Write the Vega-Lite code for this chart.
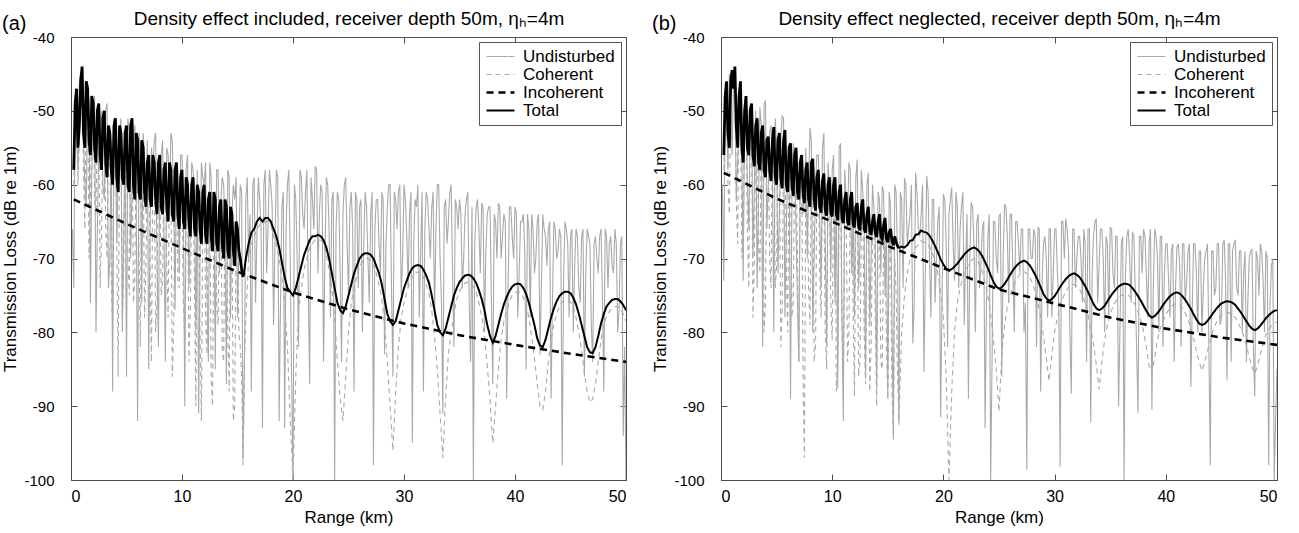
{
  "$schema": "https://vega.github.io/schema/vega-lite/v6.json",
  "padding": {"left": 1, "top": 9, "right": 20, "bottom": 3},
  "config": {
    "font": "Liberation Sans",
    "view": {"stroke": "#4d4d4d", "strokeWidth": 1},
    "axis": {"grid": false, "domain": false, "tickColor": "#4d4d4d", "tickSize": -6, "labelFontSize": 15, "titleFontSize": 17, "titleFontWeight": "normal", "labelColor": "#000", "titleColor": "#000", "labelFont": "Liberation Sans", "titleFont": "Liberation Sans"},
    "legend": {"orient": "top-right", "offset": 5, "padding": 6, "strokeColor": "#555", "fillColor": "#ffffff", "labelFontSize": 17, "labelFont": "Liberation Sans", "labelColor": "#000", "symbolType": "M-1,0H3", "symbolSize": 196, "labelOffset": 21, "rowPadding": 0, "title": null},
    "title": {"fontWeight": "normal", "fontSize": 20, "font": "Liberation Sans", "color": "#000"}
  },
  "datasets": {
    "a": [
      {"x":0.25,"t":-58,"c":-60,"u":-74,"i":-62},
      {"x":0.5,"t":-47,"c":-47.5,"u":-52},
      {"x":0.75,"t":-52,"c":-54,"u":-46},
      {"x":1,"t":-44,"c":-44.5,"u":-48},
      {"x":1.25,"t":-55,"c":-66,"u":-60},
      {"x":1.5,"t":-47,"c":-47.5,"u":-47},
      {"x":1.75,"t":-56,"c":-62,"u":-76},
      {"x":2,"t":-49,"c":-49.5,"u":-50},
      {"x":2.25,"t":-57,"c":-64,"u":-80},
      {"x":2.5,"t":-49,"c":-49.5,"u":-55},
      {"x":2.75,"t":-58,"c":-67,"u":-50},
      {"x":3,"t":-50,"c":-50.5,"u":-62},
      {"x":3.25,"t":-59,"c":-70,"u":-49},
      {"x":3.5,"t":-53,"c":-53.5,"u":-70},
      {"x":3.75,"t":-60,"c":-80,"u":-88},
      {"x":4,"t":-51,"c":-51.5,"u":-52},
      {"x":4.25,"t":-61,"c":-86,"u":-58},
      {"x":4.5,"t":-53,"c":-53.5,"u":-51},
      {"x":4.75,"t":-60,"c":-72,"u":-66},
      {"x":5,"t":-52,"c":-52.5,"u":-86,"i":-65.3},
      {"x":5.25,"t":-61,"c":-75,"u":-53},
      {"x":5.5,"t":-51,"c":-51.5,"u":-60},
      {"x":5.75,"t":-62,"c":-73,"u":-52},
      {"x":6,"t":-54,"c":-54.5,"u":-92},
      {"x":6.25,"t":-62,"c":-82,"u":-56},
      {"x":6.5,"t":-55,"c":-55.5,"u":-53},
      {"x":6.75,"t":-63,"c":-71,"u":-64},
      {"x":7,"t":-56,"c":-56.5,"u":-85},
      {"x":7.25,"t":-63,"c":-84,"u":-55},
      {"x":7.5,"t":-57,"c":-57.5,"u":-54},
      {"x":7.75,"t":-64,"c":-76,"u":-70},
      {"x":8,"t":-56,"c":-56.5,"u":-58},
      {"x":8.25,"t":-64,"c":-73,"u":-54},
      {"x":8.5,"t":-57,"c":-57.5,"u":-84},
      {"x":8.75,"t":-65,"c":-78,"u":-56},
      {"x":9,"t":-58,"c":-58.5,"u":-53},
      {"x":9.25,"t":-65,"c":-80,"u":-62},
      {"x":9.5,"t":-57,"c":-57.5,"u":-57},
      {"x":9.75,"t":-66,"c":-74,"u":-72},
      {"x":10,"t":-58,"c":-58.5,"u":-56,"i":-68.6},
      {"x":10.25,"t":-66,"c":-81,"u":-90},
      {"x":10.5,"t":-60,"c":-60.5,"u":-56},
      {"x":10.75,"t":-67,"c":-77,"u":-66},
      {"x":11,"t":-59,"c":-59.5,"u":-58},
      {"x":11.25,"t":-67,"c":-90,"u":-80},
      {"x":11.5,"t":-61,"c":-61.5,"u":-91},
      {"x":11.75,"t":-68,"c":-92,"u":-57},
      {"x":12,"t":-60,"c":-60.5,"u":-60},
      {"x":12.25,"t":-68,"c":-83,"u":-75},
      {"x":12.5,"t":-61,"c":-61.5,"u":-57},
      {"x":12.75,"t":-69,"c":-90,"u":-66},
      {"x":13,"t":-62,"c":-62.5,"u":-85},
      {"x":13.25,"t":-69,"c":-79,"u":-58},
      {"x":13.5,"t":-62,"c":-62.5,"u":-62},
      {"x":13.75,"t":-70,"c":-84,"u":-60},
      {"x":14,"t":-63,"c":-63.5,"u":-87},
      {"x":14.25,"t":-70,"c":-88,"u":-59},
      {"x":14.5,"t":-64,"c":-64.5,"u":-64},
      {"x":14.75,"t":-71,"c":-90,"u":-62},
      {"x":15,"t":-66,"c":-67,"u":-78,"i":-71.8},
      {"x":15.25,"t":-70,"c":-82,"u":-60},
      {"x":15.5,"t":-72.5,"c":-98,"u":-97},
      {"x":15.75,"t":-70,"c":-78,"u":-62},
      {"x":16,"t":-68,"c":-70,"u":-70},
      {"x":16.25,"t":-66.5,"c":-68,"u":-88},
      {"x":16.5,"t":-66,"c":-67,"u":-59},
      {"x":16.75,"t":-65,"c":-66,"u":-67},
      {"x":17,"t":-64.5,"c":-65.5,"u":-62},
      {"x":17.25,"t":-65,"c":-65.5,"u":-93},
      {"x":17.5,"t":-64.5,"c":-65,"u":-58},
      {"x":17.75,"t":-64.5,"c":-65,"u":-66},
      {"x":18,"t":-65,"c":-65.5,"u":-60},
      {"x":18.25,"t":-66,"c":-67,"u":-79},
      {"x":18.5,"t":-67,"c":-68,"u":-58},
      {"x":18.75,"t":-68.5,"c":-70,"u":-92},
      {"x":19,"t":-70.5,"c":-72.5,"u":-63},
      {"x":19.25,"t":-72.5,"c":-76,"u":-93},
      {"x":19.5,"t":-74,"c":-82,"u":-60},
      {"x":19.75,"t":-74.5,"c":-92,"u":-70},
      {"x":20,"t":-75,"c":-100,"u":-100,"i":-74.6},
      {"x":20.25,"t":-74,"c":-86,"u":-62},
      {"x":20.5,"t":-72.5,"c":-77,"u":-82},
      {"x":20.75,"t":-71,"c":-74,"u":-59},
      {"x":21,"t":-69.5,"c":-71.5,"u":-66},
      {"x":21.25,"t":-68.5,"c":-70,"u":-58},
      {"x":21.5,"t":-67.5,"c":-68.5,"u":-87},
      {"x":21.75,"t":-67,"c":-68,"u":-62},
      {"x":22,"t":-67,"c":-67.5,"u":-57.5},
      {"x":22.25,"t":-66.8,"c":-67.5,"u":-72},
      {"x":22.5,"t":-67,"c":-67.5,"u":-60},
      {"x":22.75,"t":-67.5,"c":-68,"u":-84},
      {"x":23,"t":-68.5,"c":-69.5,"u":-59},
      {"x":23.25,"t":-70,"c":-71.5,"u":-66},
      {"x":23.5,"t":-72,"c":-74,"u":-62},
      {"x":23.75,"t":-74,"c":-78,"u":-100},
      {"x":24,"t":-76,"c":-84,"u":-61},
      {"x":24.25,"t":-77,"c":-89,"u":-72},
      {"x":24.5,"t":-77.4,"c":-92,"u":-64},
      {"x":24.75,"t":-76.5,"c":-86,"u":-59},
      {"x":25,"t":-75,"c":-80,"u":-75,"i":-76.9},
      {"x":25.25,"t":-73.5,"c":-76,"u":-61},
      {"x":25.5,"t":-72,"c":-74,"u":-88},
      {"x":25.75,"t":-71,"c":-72.5,"u":-62},
      {"x":26,"t":-70,"c":-71,"u":-63},
      {"x":26.25,"t":-69.5,"c":-70.5,"u":-80},
      {"x":26.5,"t":-69.3,"c":-70,"u":-61},
      {"x":26.75,"t":-69.3,"c":-70,"u":-70},
      {"x":27,"t":-69.5,"c":-70.3,"u":-64},
      {"x":27.25,"t":-70,"c":-71,"u":-98},
      {"x":27.5,"t":-71,"c":-72,"u":-62},
      {"x":27.75,"t":-72,"c":-73.5,"u":-68},
      {"x":28,"t":-73.5,"c":-75.5,"u":-61},
      {"x":28.25,"t":-75.5,"c":-79,"u":-83},
      {"x":28.5,"t":-77.5,"c":-84,"u":-63},
      {"x":28.75,"t":-78.5,"c":-90,"u":-60},
      {"x":29,"t":-79,"c":-96,"u":-86},
      {"x":29.25,"t":-78.5,"c":-88,"u":-62},
      {"x":29.5,"t":-77,"c":-82,"u":-61},
      {"x":29.75,"t":-75.5,"c":-78,"u":-75},
      {"x":30,"t":-74,"c":-76,"u":-60,"i":-78.8},
      {"x":30.25,"t":-73,"c":-74.5,"u":-67},
      {"x":30.5,"t":-72,"c":-73.5,"u":-64},
      {"x":30.75,"t":-71.3,"c":-72.5,"u":-95},
      {"x":31,"t":-71,"c":-72,"u":-62},
      {"x":31.25,"t":-70.9,"c":-71.8,"u":-60},
      {"x":31.5,"t":-71,"c":-72,"u":-69},
      {"x":31.75,"t":-71.5,"c":-72.5,"u":-88},
      {"x":32,"t":-72.3,"c":-73.5,"u":-61},
      {"x":32.25,"t":-73.3,"c":-74.8,"u":-66},
      {"x":32.5,"t":-75,"c":-77,"u":-63},
      {"x":32.75,"t":-77,"c":-80.5,"u":-78},
      {"x":33,"t":-79,"c":-85,"u":-60},
      {"x":33.25,"t":-80,"c":-91,"u":-70},
      {"x":33.5,"t":-80.4,"c":-97,"u":-91},
      {"x":33.75,"t":-79.5,"c":-89,"u":-62},
      {"x":34,"t":-78,"c":-83,"u":-65},
      {"x":34.25,"t":-76.5,"c":-80,"u":-60},
      {"x":34.5,"t":-75,"c":-77.5,"u":-82},
      {"x":34.75,"t":-74,"c":-75.5,"u":-63},
      {"x":35,"t":-73.2,"c":-74.5,"u":-62,"i":-80.4},
      {"x":35.25,"t":-72.7,"c":-73.8,"u":-74},
      {"x":35.5,"t":-72.3,"c":-73.3,"u":-64},
      {"x":35.75,"t":-72.2,"c":-73.2,"u":-61},
      {"x":36,"t":-72.3,"c":-73.3,"u":-84},
      {"x":36.25,"t":-72.7,"c":-73.8,"u":-100},
      {"x":36.5,"t":-73.3,"c":-74.5,"u":-63},
      {"x":36.75,"t":-74.3,"c":-76,"u":-66},
      {"x":37,"t":-75.5,"c":-77.8,"u":-62.5},
      {"x":37.25,"t":-77,"c":-80.5,"u":-80},
      {"x":37.5,"t":-79,"c":-84.5,"u":-64},
      {"x":37.75,"t":-80.5,"c":-89,"u":-63},
      {"x":38,"t":-81.4,"c":-95,"u":-87},
      {"x":38.25,"t":-80.5,"c":-90,"u":-65},
      {"x":38.5,"t":-79,"c":-85,"u":-62.5},
      {"x":38.75,"t":-77.5,"c":-81,"u":-70},
      {"x":39,"t":-76.2,"c":-78.5,"u":-64},
      {"x":39.25,"t":-75.2,"c":-77,"u":-89},
      {"x":39.5,"t":-74.4,"c":-75.8,"u":-63},
      {"x":39.75,"t":-73.8,"c":-75,"u":-67},
      {"x":40,"t":-73.5,"c":-74.6,"u":-63,"i":-81.7},
      {"x":40.25,"t":-73.4,"c":-74.5,"u":-78},
      {"x":40.5,"t":-73.5,"c":-74.6,"u":-65},
      {"x":40.75,"t":-74,"c":-75.3,"u":-64},
      {"x":41,"t":-74.8,"c":-76.4,"u":-85},
      {"x":41.25,"t":-76,"c":-78,"u":-66},
      {"x":41.5,"t":-77.5,"c":-80.5,"u":-64},
      {"x":41.75,"t":-79,"c":-83.5,"u":-72},
      {"x":42,"t":-80.8,"c":-87,"u":-65},
      {"x":42.25,"t":-81.8,"c":-90,"u":-83},
      {"x":42.5,"t":-82,"c":-90.5,"u":-64},
      {"x":42.75,"t":-81,"c":-88,"u":-67},
      {"x":43,"t":-79.5,"c":-84,"u":-66},
      {"x":43.25,"t":-78,"c":-81,"u":-89},
      {"x":43.5,"t":-76.8,"c":-79,"u":-65},
      {"x":43.75,"t":-75.8,"c":-77.5,"u":-70},
      {"x":44,"t":-75.1,"c":-76.5,"u":-66},
      {"x":44.25,"t":-74.7,"c":-75.9,"u":-98},
      {"x":44.5,"t":-74.5,"c":-75.6,"u":-65},
      {"x":44.75,"t":-74.5,"c":-75.6,"u":-68},
      {"x":45,"t":-74.7,"c":-75.9,"u":-67,"i":-82.9},
      {"x":45.25,"t":-75.3,"c":-76.6,"u":-80},
      {"x":45.5,"t":-76.2,"c":-78,"u":-66},
      {"x":45.75,"t":-77.5,"c":-80,"u":-74},
      {"x":46,"t":-79,"c":-82.5,"u":-67},
      {"x":46.25,"t":-80.5,"c":-85.5,"u":-86},
      {"x":46.5,"t":-82,"c":-88,"u":-66},
      {"x":46.75,"t":-82.7,"c":-89.5,"u":-68},
      {"x":47,"t":-82.8,"c":-89,"u":-84},
      {"x":47.25,"t":-82,"c":-87,"u":-67},
      {"x":47.5,"t":-80.5,"c":-84,"u":-72},
      {"x":47.75,"t":-78.8,"c":-81,"u":-66},
      {"x":48,"t":-77.5,"c":-79,"u":-88},
      {"x":48.25,"t":-76.5,"c":-77.8,"u":-67},
      {"x":48.5,"t":-76,"c":-77.2,"u":-68},
      {"x":48.75,"t":-75.6,"c":-76.7,"u":-71},
      {"x":49,"t":-75.5,"c":-76.5,"u":-66},
      {"x":49.25,"t":-75.5,"c":-76.5,"u":-80},
      {"x":49.5,"t":-75.8,"c":-76.8,"u":-68},
      {"x":49.75,"t":-76.3,"c":-77.5,"u":-94},
      {"x":50,"t":-77,"c":-78.5,"u":-100,"i":-84},
      {"x":0.125,"u":-66},
      {"x":0.375,"t":-49,"c":-49.5,"u":-49},
      {"x":0.625,"t":-55,"c":-60,"u":-58},
      {"x":0.875,"t":-46,"c":-46.5,"u":-45},
      {"x":1.125,"t":-53,"c":-58,"u":-54},
      {"x":1.375,"t":-46,"c":-46.5,"u":-63},
      {"x":1.625,"t":-54,"c":-70,"u":-49},
      {"x":1.875,"t":-48,"c":-48.5,"u":-58},
      {"x":2.125,"t":-55,"c":-62,"u":-48},
      {"x":2.375,"t":-50,"c":-50.5,"u":-66},
      {"x":2.625,"t":-56,"c":-74,"u":-52},
      {"x":2.875,"t":-51,"c":-51.5,"u":-60},
      {"x":3.125,"t":-57,"c":-66,"u":-50},
      {"x":3.375,"t":-52,"c":-52.5,"u":-74},
      {"x":3.625,"t":-58,"c":-72,"u":-54},
      {"x":3.875,"t":-52,"c":-52.5,"u":-51},
      {"x":4.125,"t":-59,"c":-68,"u":-68},
      {"x":4.375,"t":-52,"c":-52.5,"u":-53},
      {"x":4.625,"t":-59,"c":-78,"u":-80},
      {"x":4.875,"t":-53,"c":-53.5,"u":-55},
      {"x":5.125,"t":-60,"c":-70,"u":-51},
      {"x":5.375,"t":-52,"c":-52.5,"u":-70},
      {"x":5.625,"t":-60,"c":-76,"u":-54},
      {"x":5.875,"t":-53,"c":-53.5,"u":-62},
      {"x":6.125,"t":-61,"c":-69,"u":-53},
      {"x":6.375,"t":-54,"c":-54.5,"u":-76},
      {"x":6.625,"t":-61,"c":-78,"u":-56},
      {"x":6.875,"t":-57,"c":-57.5,"u":-54},
      {"x":7.125,"t":-62,"c":-72,"u":-66},
      {"x":7.375,"t":-56,"c":-56.5,"u":-58},
      {"x":7.625,"t":-62,"c":-80,"u":-53},
      {"x":7.875,"t":-57,"c":-57.5,"u":-82},
      {"x":8.125,"t":-63,"c":-75,"u":-56},
      {"x":8.375,"t":-58,"c":-58.5,"u":-66},
      {"x":8.625,"t":-63,"c":-71,"u":-55},
      {"x":8.875,"t":-57,"c":-57.5,"u":-62},
      {"x":9.125,"t":-64,"c":-86,"u":-54},
      {"x":9.375,"t":-58,"c":-58.5,"u":-77},
      {"x":9.625,"t":-64,"c":-73,"u":-58},
      {"x":9.875,"t":-59,"c":-59.5,"u":-56},
      {"x":10.125,"t":-65,"c":-76,"u":-64},
      {"x":10.375,"t":-59,"c":-59.5,"u":-58},
      {"x":10.625,"t":-65,"c":-84,"u":-74},
      {"x":10.875,"t":-60,"c":-60.5,"u":-57},
      {"x":11.125,"t":-66,"c":-74,"u":-62},
      {"x":11.375,"t":-60,"c":-60.5,"u":-58},
      {"x":11.625,"t":-66,"c":-80,"u":-70},
      {"x":11.875,"t":-61,"c":-61.5,"u":-59},
      {"x":12.125,"t":-67,"c":-78,"u":-57},
      {"x":12.375,"t":-62,"c":-62.5,"u":-84},
      {"x":12.625,"t":-67,"c":-86,"u":-59},
      {"x":12.875,"t":-61,"c":-61.5,"u":-62},
      {"x":13.125,"t":-68,"c":-76,"u":-58},
      {"x":13.375,"t":-63,"c":-63.5,"u":-72},
      {"x":13.625,"t":-68,"c":-82,"u":-59},
      {"x":13.875,"t":-62,"c":-62.5,"u":-66},
      {"x":14.125,"t":-69,"c":-80,"u":-58},
      {"x":14.375,"t":-63,"c":-63.5,"u":-78},
      {"x":14.625,"t":-69,"c":-92,"u":-60},
      {"x":14.875,"t":-65,"c":-66,"u":-59},
      {"x":15.125,"t":-69,"c":-80,"u":-68},
      {"x":15.375,"t":-71.5,"c":-86,"u":-61},
      {"x":15.625,"t":-71.5,"c":-84,"u":-84},
      {"x":15.875,"u":-59},{"x":16.125,"u":-64},{"x":16.375,"u":-60},{"x":16.625,"u":-76},{"x":16.875,"u":-59},
      {"x":17.125,"u":-66},{"x":17.375,"u":-60},{"x":17.625,"u":-72},{"x":17.875,"u":-58},{"x":18.125,"u":-63},
      {"x":18.375,"u":-68},{"x":18.625,"u":-59},{"x":18.875,"u":-76},{"x":19.125,"u":-61},{"x":19.375,"u":-66},
      {"x":19.625,"u":-58},{"x":19.875,"u":-86},{"x":20.125,"u":-60},{"x":20.375,"u":-70},{"x":20.625,"u":-58},
      {"x":20.875,"u":-64},{"x":21.125,"u":-61},{"x":21.375,"u":-74},{"x":21.625,"u":-59},{"x":21.875,"u":-66},
      {"x":22.125,"u":-58},{"x":22.375,"u":-64},{"x":22.625,"u":-61},{"x":22.875,"u":-70},{"x":23.125,"u":-60},
      {"x":23.375,"u":-78},{"x":23.625,"u":-61},{"x":23.875,"u":-66},{"x":24.125,"u":-62},{"x":24.375,"u":-84},
      {"x":24.625,"u":-60},{"x":24.875,"u":-68},{"x":25.125,"u":-63},{"x":25.375,"u":-66},{"x":25.625,"u":-61},
      {"x":25.875,"u":-74},{"x":26.125,"u":-62},{"x":26.375,"u":-68},{"x":26.625,"u":-63},{"x":26.875,"u":-76},
      {"x":27.125,"u":-61},{"x":27.375,"u":-66},{"x":27.625,"u":-62},{"x":27.875,"u":-72},{"x":28.125,"u":-62},
      {"x":28.375,"u":-68},{"x":28.625,"u":-60},{"x":28.875,"u":-74},{"x":29.125,"u":-61},{"x":29.375,"u":-66},
      {"x":29.625,"u":-60},{"x":29.875,"u":-70},{"x":30.125,"u":-62},{"x":30.375,"u":-74},{"x":30.625,"u":-61},
      {"x":30.875,"u":-68},{"x":31.125,"u":-63},{"x":31.375,"u":-78},{"x":31.625,"u":-61},{"x":31.875,"u":-66},
      {"x":32.125,"u":-62},{"x":32.375,"u":-70},{"x":32.625,"u":-61},{"x":32.875,"u":-66},{"x":33.125,"u":-60},
      {"x":33.375,"u":-76},{"x":33.625,"u":-63},{"x":33.875,"u":-68},{"x":34.125,"u":-61},{"x":34.375,"u":-72},
      {"x":34.625,"u":-62},{"x":34.875,"u":-66},{"x":35.125,"u":-64},{"x":35.375,"u":-70},{"x":35.625,"u":-62},
      {"x":35.875,"u":-76},{"x":36.125,"u":-63},{"x":36.375,"u":-68},{"x":36.625,"u":-62},{"x":36.875,"u":-72},
      {"x":37.125,"u":-63},{"x":37.375,"u":-69},{"x":37.625,"u":-63},{"x":37.875,"u":-76},{"x":38.125,"u":-64},
      {"x":38.375,"u":-70},{"x":38.625,"u":-63},{"x":38.875,"u":-67},{"x":39.125,"u":-65},{"x":39.375,"u":-74},
      {"x":39.625,"u":-63},{"x":39.875,"u":-70},{"x":40.125,"u":-64},{"x":40.375,"u":-72},{"x":40.625,"u":-65},
      {"x":40.875,"u":-69},{"x":41.125,"u":-64},{"x":41.375,"u":-78},{"x":41.625,"u":-66},{"x":41.875,"u":-70},
      {"x":42.125,"u":-64},{"x":42.375,"u":-74},{"x":42.625,"u":-66},{"x":42.875,"u":-71},{"x":43.125,"u":-65},
      {"x":43.375,"u":-76},{"x":43.625,"u":-66},{"x":43.875,"u":-69},{"x":44.125,"u":-67},{"x":44.375,"u":-73},
      {"x":44.625,"u":-66},{"x":44.875,"u":-78},{"x":45.125,"u":-66},{"x":45.375,"u":-71},{"x":45.625,"u":-67},
      {"x":45.875,"u":-76},{"x":46.125,"u":-66},{"x":46.375,"u":-72},{"x":46.625,"u":-67},{"x":46.875,"u":-79},
      {"x":47.125,"u":-68},{"x":47.375,"u":-70},{"x":47.625,"u":-67},{"x":47.875,"u":-75},{"x":48.125,"u":-66},
      {"x":48.375,"u":-74},{"x":48.625,"u":-67},{"x":48.875,"u":-72},{"x":49.125,"u":-68},{"x":49.375,"u":-77},
      {"x":49.625,"u":-67},{"x":49.875,"u":-82}
    ],
    "b": [
      {"x":0.25,"t":-56,"c":-58,"u":-73,"i":-58.4},
      {"x":0.5,"t":-46,"c":-46.5,"u":-50},
      {"x":0.75,"t":-55,"c":-64,"u":-45},
      {"x":1,"t":-44.5,"c":-45,"u":-56},
      {"x":1.25,"t":-44,"c":-44.5,"u":-47},
      {"x":1.5,"t":-55,"c":-68,"u":-57},
      {"x":1.75,"t":-46,"c":-46.5,"u":-52},
      {"x":2,"t":-57,"c":-66,"u":-73},
      {"x":2.25,"t":-48,"c":-48.5,"u":-49},
      {"x":2.5,"t":-56,"c":-74,"u":-66},
      {"x":2.75,"t":-49,"c":-49.5,"u":-50},
      {"x":3,"t":-57.5,"c":-70,"u":-60},
      {"x":3.25,"t":-51,"c":-51.5,"u":-74},
      {"x":3.5,"t":-58,"c":-72,"u":-49.5},
      {"x":3.75,"t":-52,"c":-52.5,"u":-82},
      {"x":4,"t":-59,"c":-76,"u":-48.7},
      {"x":4.25,"t":-53.5,"c":-54,"u":-60},
      {"x":4.5,"t":-59.5,"c":-74,"u":-52},
      {"x":4.75,"t":-52.2,"c":-52.7,"u":-80},
      {"x":5,"t":-60,"c":-71,"u":-55,"i":-61.9},
      {"x":5.25,"t":-53,"c":-53.5,"u":-64},
      {"x":5.5,"t":-60.5,"c":-77,"u":-50.7},
      {"x":5.75,"t":-52.6,"c":-53,"u":-78},
      {"x":6,"t":-61,"c":-80,"u":-58},
      {"x":6.25,"t":-54.4,"c":-55,"u":-89},
      {"x":6.5,"t":-61.5,"c":-76,"u":-54.4},
      {"x":6.75,"t":-55,"c":-55.5,"u":-66},
      {"x":7,"t":-62,"c":-84,"u":-84},
      {"x":7.25,"t":-56,"c":-56.5,"u":-56.4},
      {"x":7.5,"t":-62.5,"c":-97,"u":-62},
      {"x":7.75,"t":-57,"c":-57.5,"u":-70},
      {"x":8,"t":-63,"c":-79,"u":-52.3},
      {"x":8.25,"t":-56.5,"c":-57,"u":-80},
      {"x":8.5,"t":-63.5,"c":-82,"u":-60},
      {"x":8.75,"t":-58,"c":-58.5,"u":-56},
      {"x":9,"t":-63.8,"c":-78,"u":-74},
      {"x":9.25,"t":-58.5,"c":-59,"u":-53},
      {"x":9.5,"t":-64.2,"c":-85,"u":-82},
      {"x":9.75,"t":-59,"c":-59.5,"u":-60},
      {"x":10,"t":-64.3,"c":-81,"u":-58,"i":-65},
      {"x":10.25,"t":-59,"c":-59.5,"u":-76},
      {"x":10.5,"t":-64.8,"c":-84,"u":-87.6},
      {"x":10.75,"t":-60,"c":-60.5,"u":-54.4},
      {"x":11,"t":-65.2,"c":-86,"u":-92},
      {"x":11.25,"t":-61,"c":-61.5,"u":-62},
      {"x":11.5,"t":-65.5,"c":-80,"u":-57},
      {"x":11.75,"t":-61,"c":-61.5,"u":-72},
      {"x":12,"t":-65.8,"c":-88.7,"u":-78},
      {"x":12.25,"t":-62.5,"c":-63,"u":-56.6},
      {"x":12.5,"t":-66.2,"c":-84,"u":-68},
      {"x":12.75,"t":-62,"c":-62.5,"u":-61},
      {"x":13,"t":-66.5,"c":-87,"u":-86.3},
      {"x":13.25,"t":-63,"c":-63.5,"u":-58.4},
      {"x":13.5,"t":-66.8,"c":-82,"u":-70},
      {"x":13.75,"t":-64,"c":-64.5,"u":-63},
      {"x":14,"t":-67.1,"c":-90,"u":-87.5},
      {"x":14.25,"t":-64,"c":-64.5,"u":-62},
      {"x":14.5,"t":-67.4,"c":-85,"u":-60.2},
      {"x":14.75,"t":-64.5,"c":-65,"u":-75},
      {"x":15,"t":-67.8,"c":-89,"u":-89,"i":-68.3},
      {"x":15.25,"t":-66,"c":-66.5,"u":-63},
      {"x":15.5,"t":-68.2,"c":-94,"u":-94.5},
      {"x":15.75,"t":-67.8,"c":-75,"u":-61},
      {"x":16,"t":-68.6,"c":-92,"u":-92.5},
      {"x":16.25,"t":-68.4,"c":-80,"u":-62},
      {"x":16.5,"t":-68.5,"c":-75,"u":-59.1},
      {"x":16.75,"t":-68.2,"c":-72,"u":-68},
      {"x":17,"t":-67.6,"c":-70,"u":-64},
      {"x":17.25,"t":-67.5,"c":-69.5,"u":-81.5},
      {"x":17.5,"t":-66.8,"c":-68.5,"u":-58.4},
      {"x":17.75,"t":-66.7,"c":-68.2,"u":-66},
      {"x":18,"t":-66.2,"c":-67.6,"u":-64},
      {"x":18.25,"t":-66.4,"c":-67.8,"u":-85.4},
      {"x":18.5,"t":-66.5,"c":-68,"u":-58.8},
      {"x":18.75,"t":-66.9,"c":-68.4,"u":-70},
      {"x":19,"t":-67.55,"c":-69.2,"u":-62},
      {"x":19.25,"t":-68.3,"c":-70.5,"u":-76},
      {"x":19.5,"t":-69.15,"c":-72,"u":-65},
      {"x":19.75,"t":-70.1,"c":-74.5,"u":-91.5},
      {"x":20,"t":-70.8,"c":-78,"u":-61.3,"i":-71.3},
      {"x":20.25,"t":-71.4,"c":-86,"u":-68},
      {"x":20.5,"t":-71.6,"c":-100,"u":-64},
      {"x":20.75,"t":-71.45,"c":-88,"u":-60.4},
      {"x":21,"t":-71.1,"c":-80,"u":-73},
      {"x":21.25,"t":-70.7,"c":-76,"u":-63},
      {"x":21.5,"t":-70.2,"c":-74,"u":-66},
      {"x":21.75,"t":-69.7,"c":-72.5,"u":-61},
      {"x":22,"t":-69.25,"c":-71.5,"u":-70},
      {"x":22.25,"t":-68.9,"c":-70.8,"u":-89},
      {"x":22.5,"t":-68.65,"c":-70.3,"u":-62.4},
      {"x":22.75,"t":-68.5,"c":-70,"u":-68},
      {"x":23,"t":-68.7,"c":-70.2,"u":-65.1},
      {"x":23.25,"t":-69.1,"c":-70.8,"u":-74},
      {"x":23.5,"t":-69.7,"c":-71.8,"u":-66},
      {"x":23.75,"t":-70.5,"c":-73.3,"u":-93},
      {"x":24,"t":-71.3,"c":-75,"u":-67},
      {"x":24.25,"t":-72.25,"c":-77.5,"u":-100},
      {"x":24.5,"t":-73.15,"c":-81,"u":-65},
      {"x":24.75,"t":-73.8,"c":-85,"u":-70},
      {"x":25,"t":-74.1,"c":-90.7,"u":-64.2,"i":-74.2},
      {"x":25.25,"t":-73.9,"c":-83,"u":-86},
      {"x":25.5,"t":-73.45,"c":-79,"u":-62.6},
      {"x":25.75,"t":-72.85,"c":-76.5,"u":-67},
      {"x":26,"t":-72.2,"c":-75,"u":-64},
      {"x":26.25,"t":-71.6,"c":-73.8,"u":-72},
      {"x":26.5,"t":-71.1,"c":-73,"u":-65},
      {"x":26.75,"t":-70.7,"c":-72.4,"u":-68},
      {"x":27,"t":-70.45,"c":-72,"u":-66},
      {"x":27.25,"t":-70.3,"c":-71.8,"u":-80},
      {"x":27.5,"t":-70.5,"c":-72,"u":-98.6},
      {"x":27.75,"t":-70.9,"c":-72.5,"u":-66},
      {"x":28,"t":-71.5,"c":-73.3,"u":-70},
      {"x":28.25,"t":-72.2,"c":-74.5,"u":-67},
      {"x":28.5,"t":-73,"c":-76,"u":-65.8},
      {"x":28.75,"t":-73.9,"c":-78,"u":-88},
      {"x":29,"t":-74.8,"c":-80.5,"u":-68},
      {"x":29.25,"t":-75.4,"c":-83.5,"u":-70},
      {"x":29.5,"t":-75.7,"c":-86.6,"u":-66},
      {"x":29.75,"t":-75.5,"c":-83,"u":-78},
      {"x":30,"t":-75.1,"c":-80,"u":-66,"i":-76.1},
      {"x":30.25,"t":-74.5,"c":-78,"u":-72},
      {"x":30.5,"t":-73.85,"c":-76.5,"u":-98.2},
      {"x":30.75,"t":-73.3,"c":-75.3,"u":-65},
      {"x":31,"t":-72.8,"c":-74.5,"u":-64.6},
      {"x":31.25,"t":-72.4,"c":-73.9,"u":-69},
      {"x":31.5,"t":-72.15,"c":-73.6,"u":-88.3},
      {"x":31.75,"t":-72,"c":-73.5,"u":-66},
      {"x":32,"t":-72.2,"c":-73.7,"u":-70},
      {"x":32.25,"t":-72.55,"c":-74.2,"u":-67},
      {"x":32.5,"t":-73.1,"c":-75,"u":-76},
      {"x":32.75,"t":-73.75,"c":-76,"u":-68},
      {"x":33,"t":-74.5,"c":-77.5,"u":-66},
      {"x":33.25,"t":-75.35,"c":-79.5,"u":-92.2},
      {"x":33.5,"t":-76.15,"c":-81.6,"u":-67},
      {"x":33.75,"t":-76.75,"c":-84.3,"u":-64.6},
      {"x":34,"t":-77,"c":-87.7,"u":-71},
      {"x":34.25,"t":-76.8,"c":-84,"u":-66},
      {"x":34.5,"t":-76.4,"c":-81,"u":-80},
      {"x":34.75,"t":-75.8,"c":-79,"u":-68},
      {"x":35,"t":-75.2,"c":-77.5,"u":-65.8,"i":-78},
      {"x":35.25,"t":-74.65,"c":-76.5,"u":-72},
      {"x":35.5,"t":-74.2,"c":-75.8,"u":-67},
      {"x":35.75,"t":-73.8,"c":-75.3,"u":-90},
      {"x":36,"t":-73.55,"c":-75,"u":-68},
      {"x":36.25,"t":-73.4,"c":-74.9,"u":-100},
      {"x":36.5,"t":-73.45,"c":-74.9,"u":-67},
      {"x":36.75,"t":-73.6,"c":-75.1,"u":-70},
      {"x":37,"t":-74,"c":-75.6,"u":-66.4},
      {"x":37.25,"t":-74.5,"c":-76.3,"u":-74},
      {"x":37.5,"t":-75.1,"c":-77.2,"u":-90.9},
      {"x":37.75,"t":-75.7,"c":-78.3,"u":-67},
      {"x":38,"t":-76.4,"c":-79.8,"u":-66},
      {"x":38.25,"t":-77.1,"c":-82,"u":-72},
      {"x":38.5,"t":-77.7,"c":-84.5,"u":-68},
      {"x":38.75,"t":-78,"c":-85.5,"u":-90.5},
      {"x":39,"t":-77.8,"c":-83.5,"u":-66},
      {"x":39.25,"t":-77.4,"c":-81,"u":-70},
      {"x":39.5,"t":-76.9,"c":-79.5,"u":-67},
      {"x":39.75,"t":-76.3,"c":-78.5,"u":-82},
      {"x":40,"t":-75.8,"c":-77.6,"u":-68,"i":-79.5},
      {"x":40.25,"t":-75.3,"c":-77,"u":-73},
      {"x":40.5,"t":-74.95,"c":-76.5,"u":-69},
      {"x":40.75,"t":-74.7,"c":-76.2,"u":-84},
      {"x":41,"t":-74.6,"c":-76.1,"u":-68.5},
      {"x":41.25,"t":-74.75,"c":-76.3,"u":-71},
      {"x":41.5,"t":-75.1,"c":-76.7,"u":-68},
      {"x":41.75,"t":-75.6,"c":-77.4,"u":-76},
      {"x":42,"t":-76.2,"c":-78.3,"u":-69},
      {"x":42.25,"t":-76.8,"c":-79.3,"u":-87.4},
      {"x":42.5,"t":-77.55,"c":-80.8,"u":-68},
      {"x":42.75,"t":-78.25,"c":-82.5,"u":-72},
      {"x":43,"t":-78.8,"c":-84,"u":-69},
      {"x":43.25,"t":-79,"c":-85.2,"u":-80},
      {"x":43.5,"t":-78.85,"c":-84,"u":-70},
      {"x":43.75,"t":-78.45,"c":-82.5,"u":-68},
      {"x":44,"t":-77.95,"c":-81,"u":-98},
      {"x":44.25,"t":-77.4,"c":-79.8,"u":-69},
      {"x":44.5,"t":-76.9,"c":-78.8,"u":-74},
      {"x":44.75,"t":-76.45,"c":-78.2,"u":-68},
      {"x":45,"t":-76.1,"c":-77.7,"u":-78,"i":-80.7},
      {"x":45.25,"t":-75.9,"c":-77.4,"u":-67.5},
      {"x":45.5,"t":-75.8,"c":-77.3,"u":-86.5},
      {"x":45.75,"t":-75.85,"c":-77.4,"u":-68},
      {"x":46,"t":-76,"c":-77.6,"u":-69},
      {"x":46.25,"t":-76.3,"c":-78,"u":-67.5},
      {"x":46.5,"t":-76.8,"c":-78.7,"u":-75},
      {"x":46.75,"t":-77.3,"c":-79.5,"u":-69},
      {"x":47,"t":-77.9,"c":-80.5,"u":-72},
      {"x":47.25,"t":-78.5,"c":-81.8,"u":-84},
      {"x":47.5,"t":-79.1,"c":-83.3,"u":-70},
      {"x":47.75,"t":-79.5,"c":-84.7,"u":-68.8},
      {"x":48,"t":-79.7,"c":-85.6,"u":-88.7},
      {"x":48.25,"t":-79.5,"c":-84.5,"u":-70},
      {"x":48.5,"t":-79.1,"c":-83,"u":-68},
      {"x":48.75,"t":-78.6,"c":-81.5,"u":-73},
      {"x":49,"t":-78.1,"c":-80.3,"u":-69},
      {"x":49.25,"t":-77.7,"c":-79.6,"u":-98},
      {"x":49.5,"t":-77.35,"c":-79.1,"u":-71},
      {"x":49.75,"t":-77.1,"c":-78.8,"u":-100},
      {"x":50,"t":-77,"c":-78.6,"u":-85,"i":-81.7},
      {"x":0.125,"u":-60},
      {"x":0.375,"t":-48,"c":-48.5,"u":-47},
      {"x":0.625,"t":-53,"c":-60,"u":-58},
      {"x":0.875,"t":-46,"c":-46.5,"u":-50},
      {"x":1.125,"t":-47,"c":-47.5,"u":-46},
      {"x":1.375,"t":-52,"c":-62,"u":-62},
      {"x":1.625,"t":-48,"c":-48.5,"u":-49},
      {"x":1.875,"t":-55,"c":-70,"u":-55},
      {"x":2.125,"t":-50,"c":-50.5,"u":-48.7},
      {"x":2.375,"t":-55,"c":-66,"u":-60},
      {"x":2.625,"t":-50,"c":-50.5,"u":-52},
      {"x":2.875,"t":-56,"c":-78,"u":-70},
      {"x":3.125,"t":-52,"c":-52.5,"u":-50},
      {"x":3.375,"t":-57,"c":-68,"u":-62},
      {"x":3.625,"t":-53,"c":-53.5,"u":-52},
      {"x":3.875,"t":-58,"c":-80,"u":-49},
      {"x":4.125,"t":-54,"c":-54.5,"u":-66},
      {"x":4.375,"t":-58,"c":-70,"u":-53},
      {"x":4.625,"t":-54,"c":-54.5,"u":-58},
      {"x":4.875,"t":-59,"c":-74,"u":-51},
      {"x":5.125,"t":-54,"c":-54.5,"u":-72},
      {"x":5.375,"t":-59,"c":-82,"u":-54},
      {"x":5.625,"t":-54,"c":-54.5,"u":-51},
      {"x":5.875,"t":-60,"c":-72,"u":-66},
      {"x":6.125,"t":-55,"c":-55.5,"u":-55},
      {"x":6.375,"t":-60,"c":-78,"u":-62},
      {"x":6.625,"t":-56,"c":-56.5,"u":-57},
      {"x":6.875,"t":-61,"c":-70,"u":-76},
      {"x":7.125,"t":-57,"c":-57.5,"u":-58},
      {"x":7.375,"t":-61,"c":-86,"u":-64},
      {"x":7.625,"t":-58,"c":-58.5,"u":-55},
      {"x":7.875,"t":-62,"c":-74,"u":-60},
      {"x":8.125,"t":-57,"c":-57.5,"u":-54},
      {"x":8.375,"t":-62,"c":-84,"u":-70},
      {"x":8.625,"t":-59,"c":-59.5,"u":-56},
      {"x":8.875,"t":-63,"c":-72,"u":-64},
      {"x":9.125,"t":-59.5,"c":-60,"u":-55},
      {"x":9.375,"t":-63.5,"c":-80,"u":-68},
      {"x":9.625,"t":-60,"c":-60.5,"u":-57},
      {"x":9.875,"t":-63.8,"c":-76,"u":-72},
      {"x":10.125,"t":-60,"c":-60.5,"u":-56},
      {"x":10.375,"t":-64,"c":-88,"u":-62},
      {"x":10.625,"t":-61,"c":-61.5,"u":-55},
      {"x":10.875,"t":-64.5,"c":-78,"u":-78},
      {"x":11.125,"t":-62,"c":-62.5,"u":-58},
      {"x":11.375,"t":-65,"c":-84,"u":-66},
      {"x":11.625,"t":-62,"c":-62.5,"u":-58},
      {"x":11.875,"t":-65.3,"c":-76,"u":-63},
      {"x":12.125,"t":-63,"c":-63.5,"u":-59},
      {"x":12.375,"t":-65.6,"c":-86,"u":-74},
      {"x":12.625,"t":-63,"c":-63.5,"u":-58},
      {"x":12.875,"t":-66,"c":-80,"u":-66},
      {"x":13.125,"t":-64,"c":-64.5,"u":-60},
      {"x":13.375,"t":-66.3,"c":-88,"u":-79},
      {"x":13.625,"t":-65,"c":-66,"u":-60},
      {"x":13.875,"t":-66.6,"c":-78,"u":-68},
      {"x":14.125,"t":-65,"c":-66,"u":-61},
      {"x":14.375,"t":-67,"c":-84,"u":-72},
      {"x":14.625,"t":-65.5,"c":-66.5,"u":-61},
      {"x":14.875,"t":-67.3,"c":-82,"u":-66},
      {"x":15.125,"t":-66.5,"c":-68,"u":-61},
      {"x":15.375,"t":-67.6,"c":-88,"u":-78},
      {"x":15.625,"t":-67,"c":-70,"u":-60},
      {"x":15.875,"t":-68.3,"c":-86,"u":-70},
      {"x":16.125,"u":-61},{"x":16.375,"u":-74},{"x":16.625,"u":-60},{"x":16.875,"u":-66},{"x":17.125,"u":-60},
      {"x":17.375,"u":-76},{"x":17.625,"u":-61},{"x":17.875,"u":-67},{"x":18.125,"u":-60},{"x":18.375,"u":-72},
      {"x":18.625,"u":-61},{"x":18.875,"u":-78},{"x":19.125,"u":-62},{"x":19.375,"u":-70},{"x":19.625,"u":-63},
      {"x":19.875,"u":-76},{"x":20.125,"u":-62},{"x":20.375,"u":-82},{"x":20.625,"u":-62},{"x":20.875,"u":-68},
      {"x":21.125,"u":-61},{"x":21.375,"u":-74},{"x":21.625,"u":-63},{"x":21.875,"u":-79},{"x":22.125,"u":-64},
      {"x":22.375,"u":-70},{"x":22.625,"u":-63},{"x":22.875,"u":-80},{"x":23.125,"u":-64},{"x":23.375,"u":-71},
      {"x":23.625,"u":-65},{"x":23.875,"u":-76},{"x":24.125,"u":-64},{"x":24.375,"u":-84},{"x":24.625,"u":-65},
      {"x":24.875,"u":-72},{"x":25.125,"u":-64},{"x":25.375,"u":-70},{"x":25.625,"u":-63},{"x":25.875,"u":-76},
      {"x":26.125,"u":-64},{"x":26.375,"u":-80},{"x":26.625,"u":-65},{"x":26.875,"u":-72},{"x":27.125,"u":-66},
      {"x":27.375,"u":-76},{"x":27.625,"u":-66},{"x":27.875,"u":-70},{"x":28.125,"u":-66},{"x":28.375,"u":-82},
      {"x":28.625,"u":-66},{"x":28.875,"u":-73},{"x":29.125,"u":-67},{"x":29.375,"u":-78},{"x":29.625,"u":-66},
      {"x":29.875,"u":-72},{"x":30.125,"u":-66},{"x":30.375,"u":-76},{"x":30.625,"u":-65},{"x":30.875,"u":-70},
      {"x":31.125,"u":-66},{"x":31.375,"u":-80},{"x":31.625,"u":-66},{"x":31.875,"u":-74},{"x":32.125,"u":-67},
      {"x":32.375,"u":-70},{"x":32.625,"u":-66},{"x":32.875,"u":-84},{"x":33.125,"u":-66},{"x":33.375,"u":-72},
      {"x":33.625,"u":-65},{"x":33.875,"u":-76},{"x":34.125,"u":-66},{"x":34.375,"u":-70},{"x":34.625,"u":-67},
      {"x":34.875,"u":-78},{"x":35.125,"u":-66},{"x":35.375,"u":-74},{"x":35.625,"u":-67},{"x":35.875,"u":-80},
      {"x":36.125,"u":-67},{"x":36.375,"u":-72},{"x":36.625,"u":-66},{"x":36.875,"u":-76},{"x":37.125,"u":-67},
      {"x":37.375,"u":-82},{"x":37.625,"u":-67},{"x":37.875,"u":-72},{"x":38.125,"u":-67},{"x":38.375,"u":-78},
      {"x":38.625,"u":-66},{"x":38.875,"u":-74},{"x":39.125,"u":-67},{"x":39.375,"u":-80},{"x":39.625,"u":-67},
      {"x":39.875,"u":-72},{"x":40.125,"u":-68},{"x":40.375,"u":-78},{"x":40.625,"u":-68},{"x":40.875,"u":-74},
      {"x":41.125,"u":-68},{"x":41.375,"u":-82},{"x":41.625,"u":-68},{"x":41.875,"u":-73},{"x":42.125,"u":-68},
      {"x":42.375,"u":-77},{"x":42.625,"u":-68},{"x":42.875,"u":-80},{"x":43.125,"u":-69},{"x":43.375,"u":-74},
      {"x":43.625,"u":-69},{"x":43.875,"u":-82},{"x":44.125,"u":-69},{"x":44.375,"u":-75},{"x":44.625,"u":-68},
      {"x":44.875,"u":-79},{"x":45.125,"u":-68},{"x":45.375,"u":-73},{"x":45.625,"u":-68},{"x":45.875,"u":-84},
      {"x":46.125,"u":-68},{"x":46.375,"u":-74},{"x":46.625,"u":-69},{"x":46.875,"u":-80},{"x":47.125,"u":-69},
      {"x":47.375,"u":-76},{"x":47.625,"u":-69},{"x":47.875,"u":-82},{"x":48.125,"u":-69},{"x":48.375,"u":-75},
      {"x":48.625,"u":-69},{"x":48.875,"u":-80},{"x":49.125,"u":-70},{"x":49.375,"u":-76},{"x":49.625,"u":-70},
      {"x":49.875,"u":-92}
    ]
  },
  "resolve": {
    "scale": {"color": "independent", "strokeDash": "independent"},
    "legend": {"color": "independent", "strokeDash": "independent"}
  },
  "spacing": 24,
  "hconcat": [
    {
      "width": 555,
      "height": 443,
      "title": {"text": "(a)", "anchor": "start", "frame": "bounds", "offset": -24},
      "data": {"name": "a"},
      "transform": [
        {"fold": ["u", "c", "i", "t"], "as": ["key", "value"]},
        {"filter": "isValid(datum.value)"}
      ],
      "encoding": {
        "x": {"field": "x", "type": "quantitative", "scale": {"domain": [0, 50], "nice": false},
              "axis": {"values": [0, 10, 20, 30, 40, 50], "title": "Range (km)", "labelPadding": 14, "titlePadding": 5, "labelFontSize": 16}},
        "y": {"field": "value", "type": "quantitative", "scale": {"domain": [-100, -40], "nice": false},
              "axis": {"values": [-100, -90, -80, -70, -60, -50, -40], "title": "Transmission Loss (dB re 1m)", "labelPadding": 23, "titlePadding": 4, "labelExpr": "replace(datum.label, '−', '-')"}},
        "color": {"field": "key", "type": "nominal", "scale": {"domain": ["u", "c", "i", "t"], "range": ["#a9a9a9", "#a9a9a9", "#000000", "#000000"]},
                  "legend": {"labelExpr": "{'u':'Undisturbed','c':'Coherent','i':'Incoherent','t':'Total'}[datum.value]",
                             "encode": {"symbols": {"update": {"strokeWidth": {"signal": "datum.value === 'i' ? 2.6 : datum.value === 't' ? 1.8 : 1.2"}}}}}},
        "strokeDash": {"field": "key", "type": "nominal", "scale": {"domain": ["u", "c", "i", "t"], "range": [[1, 0], [5, 4], [7, 5], [1, 0]]},
                  "legend": {"labelExpr": "{'u':'Undisturbed','c':'Coherent','i':'Incoherent','t':'Total'}[datum.value]",
                             "encode": {"symbols": {"update": {"strokeWidth": {"signal": "datum.value === 'i' ? 2.6 : datum.value === 't' ? 1.8 : 1.2"}}}}}}
      },
      "layer": [
        {"transform": [{"filter": "datum.key == 'u'"}], "mark": {"type": "line", "clip": true, "strokeWidth": 1.1}},
        {"transform": [{"filter": "datum.key == 'c'"}], "mark": {"type": "line", "clip": true, "strokeWidth": 1.1},
         "encoding": {
           "x": {"field": "x", "type": "quantitative", "axis": null},
           "y": {"field": "value", "type": "quantitative", "axis": null}}},
        {"transform": [{"filter": "datum.key == 'i'"}], "mark": {"type": "line", "clip": true, "strokeWidth": 2.6},
         "encoding": {
           "x": {"field": "x", "type": "quantitative", "axis": {"orient": "top", "values": [0, 10, 20, 30, 40, 50], "labels": false, "title": "Density effect included, receiver depth 50m, ηₕ=4m", "titlePadding": 8, "titleFontSize": 19}},
           "y": {"field": "value", "type": "quantitative", "axis": {"orient": "right", "values": [-100, -90, -80, -70, -60, -50, -40], "labels": false, "title": null}}}},
        {"transform": [{"filter": "datum.key == 't' && datum.x <= 15.5"}], "mark": {"type": "line", "clip": true, "strokeWidth": 2.8},
         "encoding": {
           "x": {"field": "x", "type": "quantitative", "axis": null},
           "y": {"field": "value", "type": "quantitative", "axis": null}}},
        {"transform": [{"filter": "datum.key == 't' && datum.x >= 15.5"}], "mark": {"type": "line", "clip": true, "strokeWidth": 2},
         "encoding": {
           "x": {"field": "x", "type": "quantitative", "axis": null},
           "y": {"field": "value", "type": "quantitative", "axis": null}}}
      ],
      "resolve": {"axis": {"x": "independent", "y": "independent"}}
    },
    {
      "width": 556,
      "height": 443,
      "title": {"text": "(b)", "anchor": "start", "frame": "bounds", "offset": -24},
      "data": {"name": "b"},
      "transform": [
        {"fold": ["u", "c", "i", "t"], "as": ["key", "value"]},
        {"filter": "isValid(datum.value)"}
      ],
      "encoding": {
        "x": {"field": "x", "type": "quantitative", "scale": {"domain": [0, 50], "nice": false},
              "axis": {"values": [0, 10, 20, 30, 40, 50], "title": "Range (km)", "labelPadding": 14, "titlePadding": 5, "labelFontSize": 16}},
        "y": {"field": "value", "type": "quantitative", "scale": {"domain": [-100, -40], "nice": false},
              "axis": {"values": [-100, -90, -80, -70, -60, -50, -40], "title": "Transmission Loss (dB re 1m)", "labelPadding": 23, "titlePadding": 4, "labelExpr": "replace(datum.label, '−', '-')"}},
        "color": {"field": "key", "type": "nominal", "scale": {"domain": ["u", "c", "i", "t"], "range": ["#a9a9a9", "#a9a9a9", "#000000", "#000000"]},
                  "legend": {"labelExpr": "{'u':'Undisturbed','c':'Coherent','i':'Incoherent','t':'Total'}[datum.value]",
                             "encode": {"symbols": {"update": {"strokeWidth": {"signal": "datum.value === 'i' ? 2.6 : datum.value === 't' ? 1.8 : 1.2"}}}}}},
        "strokeDash": {"field": "key", "type": "nominal", "scale": {"domain": ["u", "c", "i", "t"], "range": [[1, 0], [5, 4], [7, 5], [1, 0]]},
                  "legend": {"labelExpr": "{'u':'Undisturbed','c':'Coherent','i':'Incoherent','t':'Total'}[datum.value]",
                             "encode": {"symbols": {"update": {"strokeWidth": {"signal": "datum.value === 'i' ? 2.6 : datum.value === 't' ? 1.8 : 1.2"}}}}}}
      },
      "layer": [
        {"transform": [{"filter": "datum.key == 'u'"}], "mark": {"type": "line", "clip": true, "strokeWidth": 1.1}},
        {"transform": [{"filter": "datum.key == 'c'"}], "mark": {"type": "line", "clip": true, "strokeWidth": 1.1},
         "encoding": {
           "x": {"field": "x", "type": "quantitative", "axis": null},
           "y": {"field": "value", "type": "quantitative", "axis": null}}},
        {"transform": [{"filter": "datum.key == 'i'"}], "mark": {"type": "line", "clip": true, "strokeWidth": 2.6},
         "encoding": {
           "x": {"field": "x", "type": "quantitative", "axis": {"orient": "top", "values": [0, 10, 20, 30, 40, 50], "labels": false, "title": "Density effect neglected, receiver depth 50m, ηₕ=4m", "titlePadding": 8, "titleFontSize": 19}},
           "y": {"field": "value", "type": "quantitative", "axis": {"orient": "right", "values": [-100, -90, -80, -70, -60, -50, -40], "labels": false, "title": null}}}},
        {"transform": [{"filter": "datum.key == 't' && datum.x <= 16"}], "mark": {"type": "line", "clip": true, "strokeWidth": 2.8},
         "encoding": {
           "x": {"field": "x", "type": "quantitative", "axis": null},
           "y": {"field": "value", "type": "quantitative", "axis": null}}},
        {"transform": [{"filter": "datum.key == 't' && datum.x >= 16"}], "mark": {"type": "line", "clip": true, "strokeWidth": 2},
         "encoding": {
           "x": {"field": "x", "type": "quantitative", "axis": null},
           "y": {"field": "value", "type": "quantitative", "axis": null}}}
      ],
      "resolve": {"axis": {"x": "independent", "y": "independent"}}
    }
  ]
}
